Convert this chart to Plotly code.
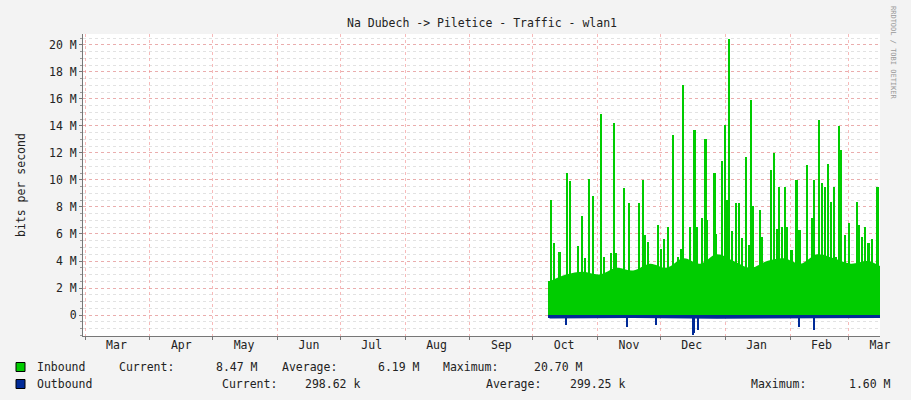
import pandas as pd
import plotly.graph_objects as go

# readings: day offset from first sample, value in Mbit/s
start = pd.Timestamp('2013-10-09')
in_days = [0, 0.8, 2.1, 4.8, 7.2, 8.5, 9.6, 12, 13.6, 15.5, 16.8, 18.7, 20.8, 22.4, 23.5, 24.8,
           26.1, 28, 29.6, 30.7, 32, 33.1, 35.5, 37.9, 40.3, 42.7, 44.5, 45.6, 47.2, 49.6, 51.7,
           53.3, 54.7, 56.8, 58.9, 61.3, 62.7, 63.8, 66.1, 67.2, 69.3, 70.6, 72.8, 74.6, 75.5,
           77.3, 78.9, 79.8, 82.4, 83.8, 85, 85.9, 87.2, 89.1, 90.4, 92, 93.9, 95.2, 96.3, 97.1,
           99.2, 100.8, 101.6, 103.7, 106.1, 107.4, 108.8, 109.9, 111.2, 112.5, 113.6, 115.7,
           118.1, 119.5, 120.8, 122.9, 125.3, 126.4, 127.5, 128.8, 130.4, 131.7, 133.1, 134.6,
           136.2, 136.8, 138.4, 139.2, 141.3, 143.2, 144.5, 146.9, 148, 149.3, 150.9, 152.5,
           154.1, 155.2, 156.8, 157.9, 159.2]
in_vals = [2.5, 8.5, 5.3, 4.7, 1.4, 10.5, 9.9, 2.7, 5.1, 7.3, 4.2, 10.1, 8.8, 3.0, 2.7, 14.9,
           4.3, 1.7, 4.6, 14.2, 4.6, 2.2, 9.4, 8.3, 1.9, 8.3, 10.0, 5.9, 5.4, 2.2, 6.7,
           4.9, 5.6, 6.5, 13.3, 4.3, 4.9, 17.0, 3.3, 6.5, 13.7, 6.5, 7.2, 13.0, 7.0,
           3.3, 10.5, 6.0, 11.4, 14.1, 8.5, 20.4, 6.2, 8.3, 8.3, 5.7, 11.7, 5.2, 15.9, 8.1,
           2.8, 7.8, 5.8, 2.8, 10.7, 12.0, 6.4, 9.5, 6.5, 9.5, 6.5, 4.8,
           10.0, 6.3, 3.8, 11.1, 7.2, 10.0, 2.6, 14.4, 9.8, 9.5, 11.2, 8.4,
           9.5, 4.3, 14.0, 12.2, 5.9, 6.8, 3.0, 8.4, 6.7, 5.8, 6.5, 5.3,
           5.6, 3.8, 9.5, 2.8, 8.3]
base_days = [0, 8, 16, 24, 32, 40, 48, 56, 64, 72, 80, 88, 96, 104, 112, 120, 128, 136, 144, 152, 159.5]
base_vals = [2.5, 3.0, 3.2, 3.0, 3.5, 3.3, 3.8, 3.5, 4.2, 3.8, 4.5, 4.0, 3.5, 4.0, 4.2, 3.8, 4.5, 4.2, 3.8, 4.0, 3.5]
out_days = [0, 7.8, 37.1, 51.1, 68.5, 69.2, 71.2, 119.2, 126.4, 159.5]
out_vals = [-0.2, -0.75, -0.85, -0.75, -1.5, -1.3, -1.1, -0.85, -1.1, -0.2]
out_base_days = [0, 40, 80, 120, 159.5]
out_base_vals = [-0.25, -0.22, -0.28, -0.25, -0.22]

months = pd.date_range('2013-03-01', '2014-03-01', freq='MS')
month_mid = months + pd.Timedelta(days=15)
month_names = [m.strftime('%b') for m in months]
y_ticks = list(range(0, 21, 2))
y_text = ['0'] + ['%d M' % v for v in y_ticks[1:]]

GREEN = '#00CC00'
BLUE = '#002A97'
MONO = 'DejaVu Sans Mono'
RED_GRID = 'rgba(240,130,130,0.55)'
W, H = 911, 400
ML, MR, MT, MB = 83, 31, 34, 64
FS = 11.5


def to_dates(days):
    return [start + pd.Timedelta(days=d) for d in days]


fig = go.Figure()
fig.add_trace(go.Scatter(x=to_dates(base_days), y=[v * 1e6 for v in base_vals], mode='lines',
                         line=dict(width=0, shape='spline'), fill='tozeroy', fillcolor=GREEN,
                         showlegend=False, hoverinfo='skip'))
fig.add_trace(go.Bar(x=to_dates(in_days), y=[v * 1e6 for v in in_vals], width=86400000 * 1.0,
                     marker=dict(color=GREEN, line=dict(width=0)), showlegend=False))
fig.add_trace(go.Scatter(x=to_dates(out_base_days), y=[v * 1e6 for v in out_base_vals], mode='lines',
                         line=dict(width=0), fill='tozeroy', fillcolor=BLUE,
                         showlegend=False, hoverinfo='skip'))
fig.add_trace(go.Bar(x=to_dates(out_days), y=[v * 1e6 for v in out_vals], width=86400000 * 1.0,
                     marker=dict(color=BLUE, line=dict(width=0)), showlegend=False))
# dummy trace so the label axis is drawn
fig.add_trace(go.Scatter(x=[month_mid[0]], y=[0], xaxis='x2', mode='markers',
                         marker=dict(opacity=0), showlegend=False, hoverinfo='skip'))

fig.update_layout(
    width=W, height=H,
    margin=dict(l=ML, r=MR, t=MT, b=MB, autoexpand=False),
    paper_bgcolor='#F3F3F3', plot_bgcolor='white',
    barmode='overlay', bargap=0,
    font=dict(family=MONO, size=FS, color='#222'),
    xaxis=dict(type='date', range=['2013-02-28', '2014-03-16'], tickvals=months, automargin=False,
               ticktext=[''] * len(months), showgrid=True, gridcolor=RED_GRID,
               griddash='dot', gridwidth=1, ticks='outside', ticklen=3, tickcolor='#777',
               showline=True, linecolor='#777', linewidth=1, zeroline=False),
    xaxis2=dict(type='date', overlaying='x', side='bottom', range=['2013-02-28', '2014-03-16'],
                tickvals=month_mid, ticktext=month_names, showgrid=False, showline=False,
                automargin=False, ticks='', tickfont=dict(family=MONO, size=FS, color='#222')),
    yaxis=dict(range=[-1.55e6, 20.8e6], tickvals=[v * 1e6 for v in y_ticks], ticktext=y_text,
               automargin=False, tickfont=dict(family=MONO, size=FS, color='#222'),
               showgrid=True, gridcolor=RED_GRID, griddash='dot', gridwidth=1,
               minor=dict(dtick=0.5e6, showgrid=True, gridcolor='#e2e2e2', griddash='dot',
                          ticks='outside', ticklen=2, tickcolor='#999'),
               ticks='outside', ticklen=3, tickcolor='#777', zeroline=False,
               showline=True, linecolor='#777', linewidth=1, ticksuffix=' '),
)

fig.add_annotation(text='bits per second', x=0.0, xref='paper', xshift=-71, y=0.5, yref='paper',
                   textangle=-90, showarrow=False, font=dict(family=MONO, size=FS, color='#222'))
fig.add_annotation(text='Na Dubech -> Piletice - Traffic - wlan1', x=0.5, xref='paper',
                   y=1, yref='paper', yshift=20, showarrow=False,
                   font=dict(family=MONO, size=FS, color='#222'))
fig.add_annotation(text='RRDTOOL / TOBI OETIKER', x=1, xref='paper', xshift=19, y=1, yref='paper',
                   yanchor='top', yshift=30, textangle=90, showarrow=False,
                   font=dict(family=MONO, size=7, color='#999'))


def px_x(p):
    return (p - ML) / (W - ML - MR)


def px_y(p):
    return (H - MB - p) / (H - MT - MB)


# legend rows (pixel positions of the rrdtool legend)
rows = [
    (GREEN, 367, [('Inbound', 35, 'left'), ('Current:', 117, 'left'), ('8.47 M', 260, 'right'),
                  ('Average:', 280, 'left'), ('6.19 M', 422, 'right'), ('Maximum:', 441, 'left'),
                  ('20.70 M', 585, 'right')]),
    (BLUE, 384, [('Outbound', 35, 'left'), ('Current:', 220, 'left'), ('298.62 k', 362, 'right'),
                 ('Average:', 484, 'left'), ('299.25 k', 627, 'right'), ('Maximum:', 749, 'left'),
                 ('1.60 M', 893, 'right')]),
]
for color, ypx, items in rows:
    fig.add_shape(type='rect', xref='paper', yref='paper',
                  x0=px_x(16), x1=px_x(25), y0=px_y(ypx + 4.5), y1=px_y(ypx - 4.5),
                  fillcolor=color, line=dict(color='black', width=1))
    for txt, p, anchor in items:
        fig.add_annotation(text=txt, x=px_x(p), xref='paper', y=px_y(ypx), yref='paper',
                           xanchor=anchor, yanchor='middle', showarrow=False,
                           font=dict(family=MONO, size=FS, color='#222'))

fig.write_html('out.html', config={'displayModeBar': False})
with open('out.html') as f:
    page = f.read()
page = page.replace('<body>', '<body style="margin:0">', 1)
with open('out.html', 'w') as f:
    f.write(page)
